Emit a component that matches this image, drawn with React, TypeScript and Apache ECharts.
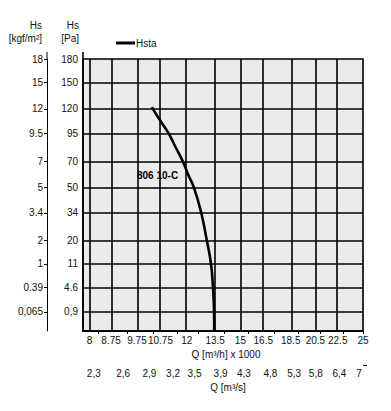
import React, { useEffect, useRef } from "react";
import * as echarts from "echarts";

// Q [m³/h] x 1000 tick values (log scale)
const qTicks = [8, 8.75, 9.75, 10.75, 12, 13.5, 15, 16.5, 18.5, 20.5, 22.5, 25];
const qTickLabels = ["8", "8.75", "9.75", "10.75", "12", "13.5", "15", "16.5", "18.5", "20.5", "22.5", "25"];
// Q [m³/s] tick values
const qsTicks = [2.3, 2.6, 2.9, 3.2, 3.5, 3.9, 4.3, 4.8, 5.3, 5.8, 6.4, 7];
const qsTickLabels = ["2,3", "2,6", "2,9", "3,2", "3,5", "3,9", "4,3", "4,8", "5,3", "5,8", "6,4", "7"];
// Hs [Pa] ticks (square-root scale)
const paTicks = [0.9, 4.6, 11, 20, 34, 50, 70, 95, 120, 150, 180];
const paTickLabels = ["0,9", "4.6", "11", "20", "34", "50", "70", "95", "120", "150", "180"];
// Hs [kgf/m²] labels at the same positions
const kgfTickLabels = ["0,065", "0.39", "1", "2", "3.4", "5", "7", "9.5", "12", "15", "18"];

// Curve 806 10-C (Hsta)
const curveQ = [10.37, 10.73, 11.12, 11.47, 11.8, 12.08, 12.36, 12.74, 13.04, 13.27, 13.38, 13.44, 13.45];
const curveP = [122, 108, 95, 81.5, 70, 59, 50, 34, 20, 11, 4.6, 0.9, 0];

const qMin = 7.785;
const qMax = 25;
const pMax = 180;

const fx = (q: number) => Math.log(q);
const fy = (p: number) => Math.sqrt(p);

const FONT = "'Liberation Sans', Arial, Helvetica, sans-serif";

function labeler(vals: number[], labels: string[]) {
  return (v: number) => {
    let best = 0;
    let bd = Infinity;
    vals.forEach((t, i) => {
      const d = Math.abs(t - v);
      if (d < bd) {
        bd = d;
        best = i;
      }
    });
    return bd < 1e-6 ? labels[best] : "";
  };
}

export default function App() {
  const ref = useRef<HTMLDivElement>(null);

  useEffect(() => {
    if (!ref.current) return;
    const chart = echarts.init(ref.current, null, { renderer: "svg" });

    const xVals = qTicks.map(fx);
    // m³/s -> m³/h x 1000 (x 3.6); last one sits at the axis end
    const xsVals = qsTicks.map((v) => Math.min(fx(v * 3.6), fx(qMax)));
    const yVals = paTicks.map(fy);

    const gridLine = { color: "#000", width: 1.6, type: "solid" as const };

    const option: any = {
      animation: false,
      textStyle: { fontFamily: FONT },
      grid: {
        left: 83,
        top: 59,
        width: 280,
        height: 272,
        show: true,
        backgroundColor: "#ebebeb",
        borderColor: "#000",
        borderWidth: 1.6,
      },
      legend: {
        show: true,
        left: 116,
        top: 38,
        padding: 0,
        icon: "rect",
        itemWidth: 19,
        itemHeight: 3,
        data: ["Hsta"],
        textStyle: { fontFamily: FONT, fontSize: 10, color: "#111", padding: [0, 0, 0, -4] },
      },
      xAxis: [
        {
          type: "value",
          position: "bottom",
          min: fx(qMin),
          max: fx(qMax),
          name: "Q [m³/h] x 1000",
          nameLocation: "middle",
          nameGap: 17,
          nameTextStyle: { fontFamily: FONT, fontSize: 10, color: "#111", padding: [0, 0, 0, 6] },
          axisLine: { show: true, lineStyle: { color: "#000", width: 1.6 } },
          axisTick: { show: false, customValues: xVals },
          axisLabel: {
            customValues: xVals,
            margin: 4,
            fontFamily: FONT,
            fontSize: 10,
            color: "#111",
            formatter: labeler(xVals, qTickLabels),
          },
          splitLine: { show: false },
        },
        {
          type: "value",
          position: "bottom",
          offset: 34,
          min: fx(qMin),
          max: fx(qMax),
          name: "Q [m³/s]",
          nameLocation: "middle",
          nameGap: 10,
          nameTextStyle: { fontFamily: FONT, fontSize: 10, color: "#111", padding: [0, 0, 0, 10] },
          axisLine: { show: true, lineStyle: { color: "#000", width: 1 } },
          axisTick: { show: true, length: 3, customValues: xsVals, lineStyle: { color: "#000" } },
          axisLabel: {
            customValues: xsVals,
            margin: 3,
            fontFamily: FONT,
            fontSize: 10,
            color: "#111",
            padding: [0, 8, 0, 0],
            formatter: labeler(xsVals, qsTickLabels),
          },
          splitLine: { show: false },
        },
      ],
      yAxis: [
        {
          type: "value",
          position: "left",
          min: 0,
          max: fy(pMax),
          axisLine: { show: true, lineStyle: { color: "#000", width: 1.6 } },
          axisTick: { show: false, customValues: yVals },
          axisLabel: {
            customValues: yVals,
            margin: 5,
            fontFamily: FONT,
            fontSize: 10,
            color: "#111",
            formatter: labeler(yVals, paTickLabels),
          },
          splitLine: { show: false },
        },
        {
          type: "value",
          position: "left",
          offset: 36,
          min: 0,
          max: fy(pMax),
          axisLine: { show: true, lineStyle: { color: "#000", width: 1 } },
          axisTick: { show: true, length: 3, customValues: yVals, lineStyle: { color: "#000" } },
          axisLabel: {
            customValues: yVals,
            margin: 4,
            fontFamily: FONT,
            fontSize: 10,
            color: "#111",
            formatter: labeler(yVals, kgfTickLabels),
          },
          splitLine: { show: false },
        },
      ],
      series: [
        {
          name: "grid",
          type: "line",
          xAxisIndex: 0,
          yAxisIndex: 0,
          data: [[fx(20), fy(100)]],
          showSymbol: false,
          lineStyle: { opacity: 0 },
          silent: true,
          z: 1,
          markLine: {
            silent: true,
            symbol: ["none", "none"],
            label: { show: false },
            lineStyle: gridLine,
            emphasis: { disabled: true },
            data: [
              ...xVals.map((v) => ({ xAxis: v })),
              ...yVals.map((v) => ({ yAxis: v })),
            ],
          },
        },
        {
          name: "Hsta",
          type: "line",
          xAxisIndex: 0,
          yAxisIndex: 0,
          smooth: 0.5,
          showSymbol: false,
          symbol: "none",
          z: 5,
          color: "#000",
          lineStyle: { color: "#000", width: 2.6 },
          data: curveQ.map((q, i) => [fx(q), fy(curveP[i])]),
        },
      ],
      graphic: [
        { type: "text", right: 391 - 42, top: 20, style: { text: "Hs", font: `10px ${FONT}`, fill: "#111", textAlign: "right" } },
        { type: "text", right: 391 - 42, top: 33, style: { text: "[kgf/m²]", font: `10px ${FONT}`, fill: "#111", textAlign: "right" } },
        { type: "text", right: 391 - 79, top: 20, style: { text: "Hs", font: `10px ${FONT}`, fill: "#111", textAlign: "right" } },
        { type: "text", right: 391 - 79, top: 33, style: { text: "[Pa]", font: `10px ${FONT}`, fill: "#111", textAlign: "right" } },
        { type: "line", shape: { x1: 47, y1: 52, x2: 47, y2: 59 }, style: { stroke: "#000", lineWidth: 1 } },
        { type: "line", shape: { x1: 83, y1: 52, x2: 83, y2: 59 }, style: { stroke: "#000", lineWidth: 1.6 } },
        { type: "line", shape: { x1: 363, y1: 365.5, x2: 367, y2: 365.5 }, style: { stroke: "#000", lineWidth: 1 } },
        { type: "text", left: 137, top: 170, style: { text: "806 10-C", font: `bold 10px ${FONT}`, fill: "#000" }, z: 10 },
      ],
    };

    chart.setOption(option);
    return () => chart.dispose();
  }, []);

  return (
    <div
      ref={ref}
      style={{ position: "fixed", left: 0, top: 0, width: 391, height: 411, background: "#fff" }}
    />
  );
}
